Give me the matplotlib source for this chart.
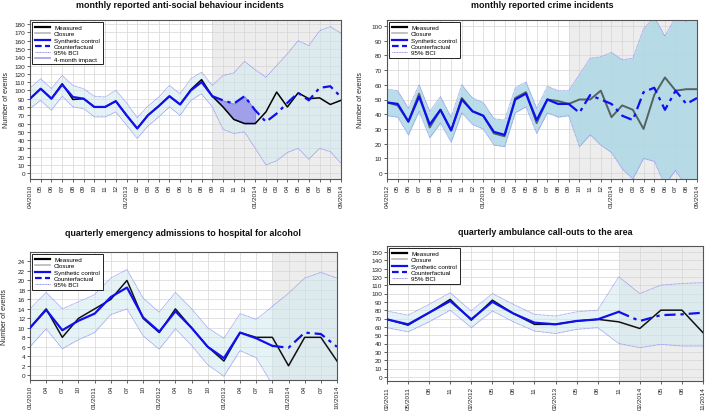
import matplotlib
matplotlib.use("Agg")
import matplotlib.pyplot as plt
from matplotlib.lines import Line2D
import numpy as np

plt.rcParams['font.family'] = ['Liberation Sans', 'DejaVu Sans']

# ---------------- data ----------------
asb_labels = ['04/2010', '05', '06', '07', '08', '09', '10', '11', '12', '01/2013', '02', '03',
              '04', '05', '06', '07', '08', '09', '10', '11', '12', '01/2014', '02', '03', '04',
              '05', '06', '07', '08', '09/2014']
asb_measured = [90, 102, 90, 108, 89, 90, 80, 80, 87, 70, 54, 70, 81, 93, 83, 101, 113, 93,
                80, 65, 60, 60, 74, 98, 80, 97, 90, 91, 83, 88]
asb_synthetic = [90, 102, 90, 107, 92, 90, 80, 80, 87, 70, 54, 70, 81, 93, 83, 100, 110, 93]
asb_counterfactual = [93, 88, 84, 93, 76, 62, 72, 85, 97, 88, 103, 105, 92]
asb_upper = [103, 114, 102, 118, 106, 102, 93, 92, 100, 85, 67, 81, 92, 106, 96, 114, 122, 106,
             118, 121, 135, 125, 116, 130, 144, 160, 154, 172, 177, 169]
asb_lower = [78, 88, 76, 93, 80, 78, 68, 68, 74, 58, 42, 57, 68, 80, 70, 88, 96, 80,
             53, 48, 50, 30, 10, 15, 25, 30, 17, 30, 26, 12]
asb_closure = 17

crime_labels = ['04/2012', '05', '06', '07', '08', '09', '10', '11', '12', '01/2013', '02', '03',
                '04', '05', '06', '07', '08', '09', '10', '11', '12', '01/2014', '02', '03', '04',
                '05', '06', '07', '08', '09/2014']
crime_measured = [48, 46, 35, 54, 31, 43, 29, 51, 42, 39, 27, 25, 51, 55, 34, 50, 49, 47,
                  50, 50, 56, 38, 46, 43, 30, 53, 65, 56, 57, 57]
crime_synthetic = [48, 47, 35, 52, 33, 43, 29, 50, 42, 39, 28, 26, 50, 54, 36, 50, 47, 47]
crime_counterfactual = [47, 41, 53, 50, 47, 39, 36, 55, 58, 43, 56, 47, 51]
crime_upper = [57, 56, 44, 60, 42, 52, 38, 60, 51, 48, 37, 36, 58, 62, 44, 59, 56, 56,
               67, 78, 79, 82, 77, 78, 98, 106, 93, 106, 103, 106]
crime_lower = [39, 38, 26, 42, 24, 34, 21, 41, 33, 30, 19, 18, 41, 45, 27, 41, 38, 39,
               18, 26, 19, 14, 3, -4, 10, 8, -8, 2, -10, -10]
crime_closure = 17

alc_labels = ['01/2010', '04', '07', '10', '01/2011', '04', '07', '10', '01/2012', '04', '07', '10',
              '01/2013', '04', '07', '10', '01/2014', '04', '07', '10/2014']
alc_measured = [10, 14, 8, 12, 14, 16, 20, 12, 9, 14, 10, 6, 3, 9, 8, 8, 2, 8, 8, 3]
alc_synthetic = [10, 13.8, 9.5, 11.5, 13, 16.5, 18.5, 12.2, 9.2, 13.5, 10, 6, 3.6, 9, 7.8, 6.2]
alc_counterfactual = [6.2, 5.8, 9, 8.7, 6]
alc_upper = [14, 17.5, 14, 15.5, 17, 20.5, 22.3, 16.3, 13.3, 17.5, 14, 10, 7.8, 13, 11.8,
             14.5, 17.3, 20.5, 21.7, 20.5]
alc_lower = [6, 9.8, 5.6, 7.5, 9, 12.8, 14, 8.3, 5.5, 9.8, 6.3, 2.2, -0.2, 5.2, 3.7,
             -2, -3, -3, -3, -3]
alc_closure = 15

amb_labels = ['02/2011', '05/2011', '08', '11', '02/2012', '05', '08', '11', '02/2013', '05', '08',
              '11', '02/2014', '05', '08', '11/2014']
amb_measured = [69, 62, 77, 93, 68, 92, 76, 63, 63, 67, 69, 66, 58, 80, 80, 53]
amb_synthetic = [69, 63, 77, 91, 69, 90, 76, 65, 63, 67, 69, 78]
amb_counterfactual = [78, 67, 74, 75, 77]
amb_upper = [79, 74, 87, 101, 79, 100, 87, 75, 73, 78, 80, 120, 100, 110, 112, 113]
amb_lower = [59, 54, 66, 80, 59, 79, 66, 55, 52, 57, 59, 40, 35, 39, 37, 37]
amb_closure = 11

# ---------------- drawing ----------------
W, H = 709, 414
fig = plt.figure(figsize=(W / 100, H / 100), dpi=100)


def box(l, r, t, b):
    return [l / W, 1 - b / H, (r - l) / W, (b - t) / H]


BLUE = '#1010ee'
BCI = '#8c8cf0'
DASH = (0, (5, 2.2, 1.5, 2.2))


def panel(rect, title, title_xy, labels, measured, synthetic, counterfactual, upper, lower,
          closure, ylim, yticks, band_color, band_alpha, meas_color, meas_lw,
          ylabel_x=None, impact=False):
    ax = fig.add_axes(box(*rect))
    n = len(labels)
    x = np.arange(n)
    ax.set_xlim(0, n - 1)
    ax.set_ylim(*ylim)
    ax.axvspan(closure, n - 1, color='#ededed', zorder=0, lw=0)
    ax.set_xticks(x)
    ax.set_xticklabels(labels, rotation=90)
    ax.set_yticks(yticks)
    ax.grid(True, color='#d6d6d6', lw=0.5, zorder=0.5)
    ax.set_axisbelow(True)
    ax.fill_between(x, lower, upper, color=band_color, alpha=band_alpha, lw=0, zorder=1)
    ax.plot(x, upper, color=BCI, lw=0.6, ls=(0, (1, 0.6)), zorder=2)
    ax.plot(x, lower, color=BCI, lw=0.6, ls=(0, (1, 0.6)), zorder=2)
    if impact:
        xi = np.arange(closure, closure + 5)
        ax.fill_between(xi, [measured[i] for i in xi],
                        counterfactual[:5], color='#a0a0ea', lw=0.6, edgecolor='#8080dd',
                        zorder=2.5)
    ax.plot(x, measured, color=meas_color, lw=meas_lw, zorder=3)
    ax.plot(x[:len(synthetic)], synthetic, color=BLUE, lw=1.6, zorder=4)
    ax.plot(x[closure:], counterfactual, color=BLUE, lw=1.6, ls=DASH, zorder=4)
    ax.tick_params(direction='out', length=2, width=0.5, labelsize=4.6, pad=1.5,
                   colors='#222222')
    for s in ax.spines.values():
        s.set_color('#555555')
        s.set_linewidth(0.8)
    fig.text(title_xy[0] / W, 1 - title_xy[1] / H, title, ha='center', va='center',
             fontsize=6.4, fontweight='bold', color='#111111')
    if ylabel_x is not None:
        ycen = (rect[2] + rect[3]) / 2
        fig.text(ylabel_x / W, 1 - ycen / H, 'Number of events', rotation=90,
                 ha='center', va='center', fontsize=5, color='#222222')
    handles = [Line2D([], [], color='black', lw=1.6),
               Line2D([], [], color='#b8b8b8', lw=1.2),
               Line2D([], [], color=BLUE, lw=1.6),
               Line2D([], [], color=BLUE, lw=1.6, ls=(0, (3, 1.5))),
               Line2D([], [], color=BCI, lw=0.7, ls=(0, (1, 0.6)))]
    names = ['Measured', 'Closure', 'Synthetic control', 'Counterfactual', '95% BCI']
    if impact:
        handles.append(Line2D([], [], color='#a0a0ea', lw=1.2))
        names.append('4-month impact')
    leg = ax.legend(handles, names, loc='upper left', fontsize=4.5, frameon=True,
                    fancybox=False, edgecolor='#222222', framealpha=1,
                    borderpad=0.45, handlelength=2.4, handletextpad=0.7, labelspacing=0.15,
                    borderaxespad=0.3)
    leg.get_frame().set_linewidth(0.7)
    leg.set_zorder(10)
    return ax


panel((30, 341, 21, 180), 'monthly reported anti-social behaviour incidents', (180, 6),
      asb_labels, asb_measured, asb_synthetic, asb_counterfactual, asb_upper, asb_lower,
      asb_closure, (-7, 185), np.arange(0, 181, 10), '#cfe8ef', 0.5, 'black', 1.1,
      ylabel_x=7, impact=True)

panel((387, 697, 21, 180), 'monthly reported crime incidents', (542, 6),
      crime_labels, crime_measured, crime_synthetic, crime_counterfactual, crime_upper,
      crime_lower, crime_closure, (-4, 104), np.arange(0, 101, 10), '#add8e6', 0.85,
      '#556262', 1.4, ylabel_x=361)

panel((30, 337, 253, 381), 'quarterly emergency admissions to hospital for alcohol', (183, 234),
      alc_labels, alc_measured, alc_synthetic, alc_counterfactual, alc_upper, alc_lower,
      alc_closure, (-1, 26), np.arange(0, 25, 2), '#cfe8ef', 0.5, '#111111', 1.1,
      ylabel_x=5)

panel((387, 703, 247, 382), 'quarterly ambulance call-outs to the area', (545, 233),
      amb_labels, amb_measured, amb_synthetic, amb_counterfactual, amb_upper, amb_lower,
      amb_closure, (-5, 157), np.arange(0, 151, 10), '#cfe8ef', 0.5, '#111111', 1.1)

fig.savefig('out.png', dpi=100)
